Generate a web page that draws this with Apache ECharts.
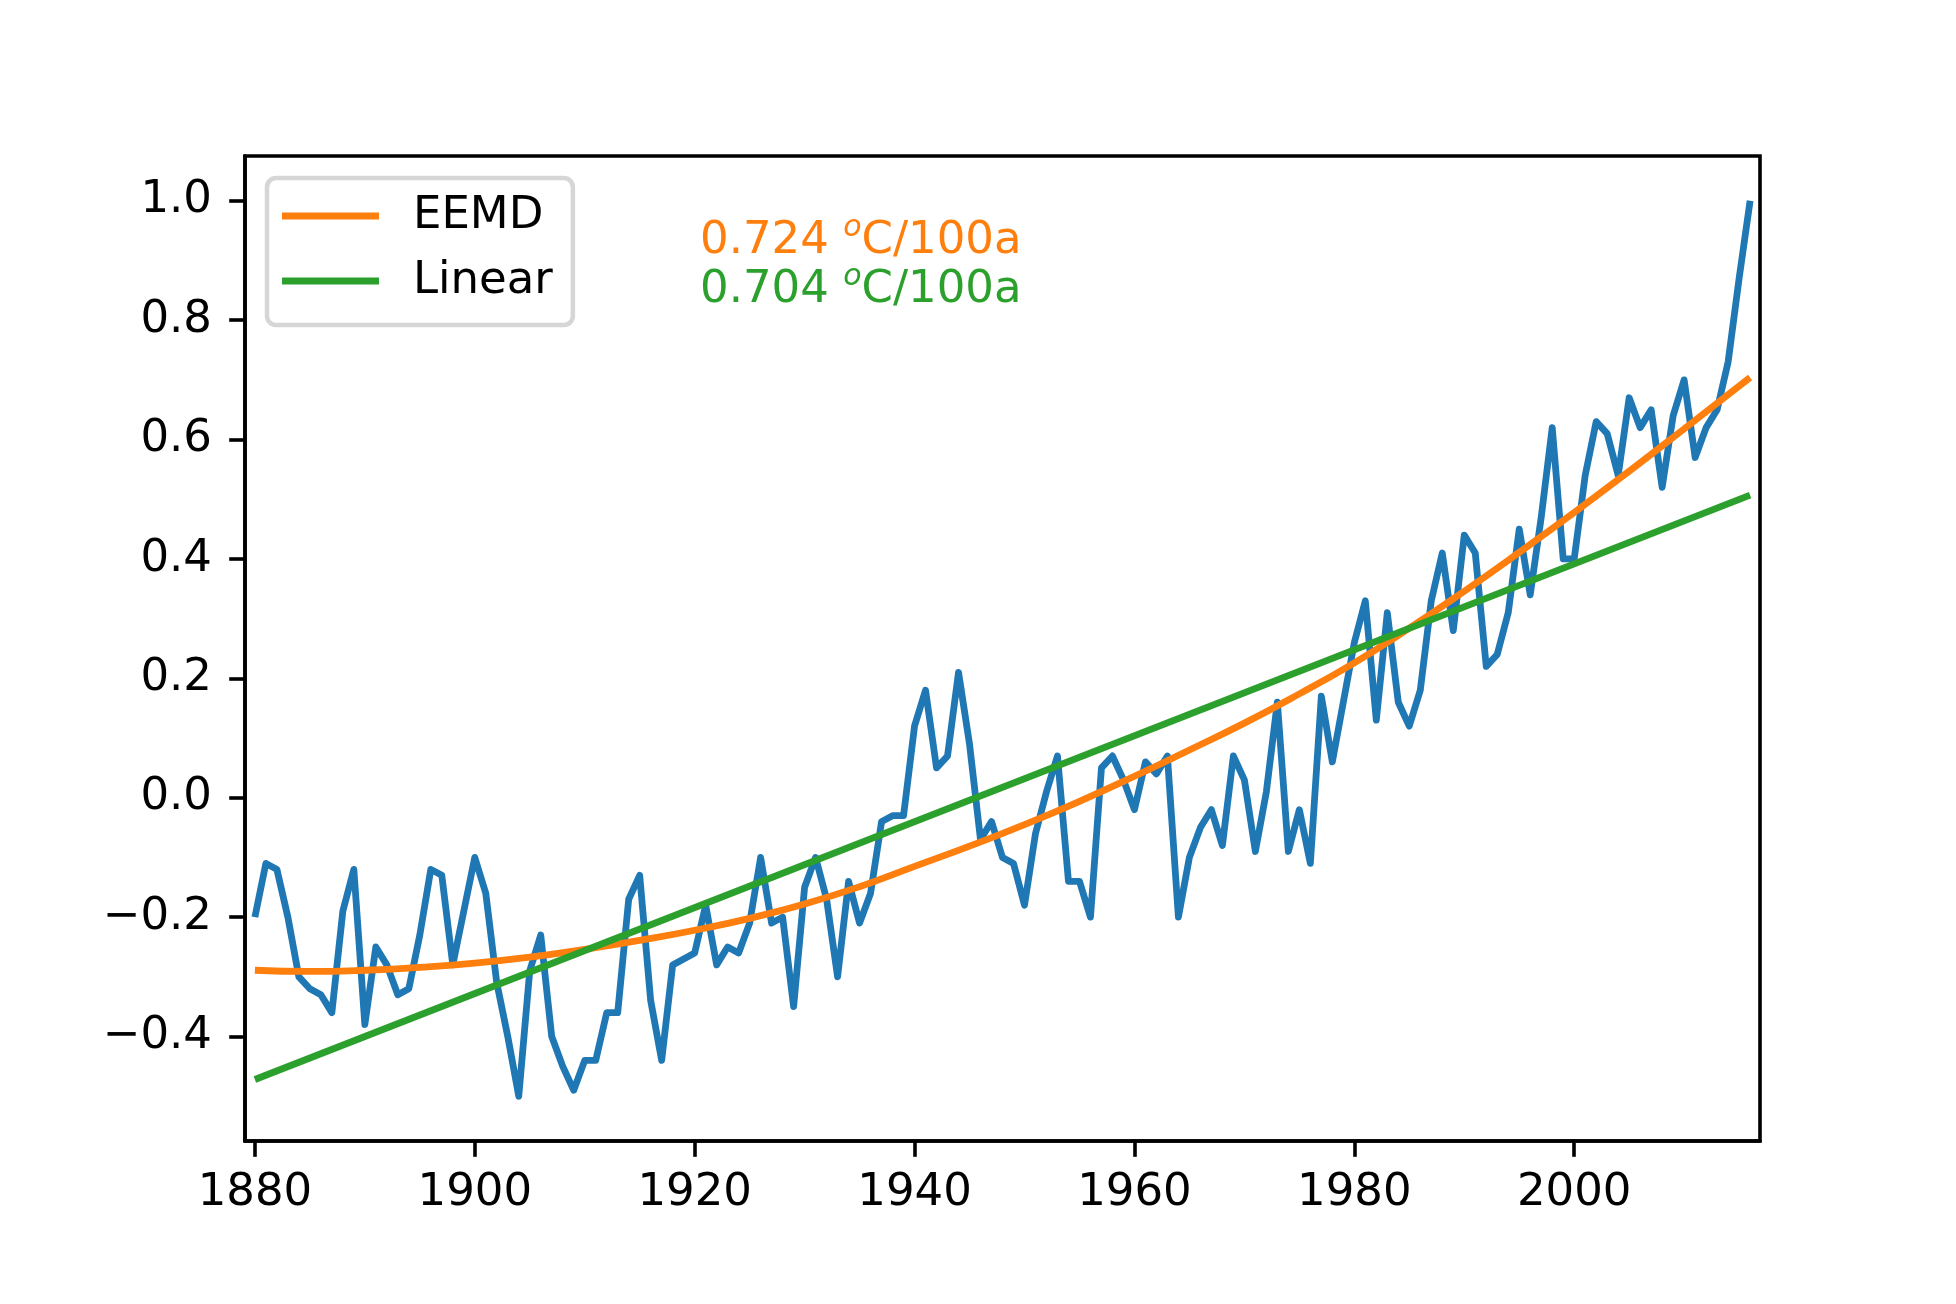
<!DOCTYPE html>
<html><head><meta charset="utf-8">
<script src="https://cdn.jsdelivr.net/npm/echarts@6/dist/echarts.min.js"></script>
<style>html,body{margin:0;padding:0;background:#fff}#chart{width:1956px;height:1304px}</style>
</head><body><div id="chart"></div>
<script>
// ---- data ----
const startYear = 1880;
const anomaly = [
  -0.20,-0.11,-0.12,-0.20,-0.30,-0.32,-0.33,-0.36,-0.19,-0.12,
  -0.38,-0.25,-0.28,-0.33,-0.32,-0.23,-0.12,-0.13,-0.28,-0.19,
  -0.10,-0.16,-0.31,-0.40,-0.50,-0.29,-0.23,-0.40,-0.45,-0.49,
  -0.44,-0.44,-0.36,-0.36,-0.17,-0.13,-0.34,-0.44,-0.28,-0.27,
  -0.26,-0.18,-0.28,-0.25,-0.26,-0.21,-0.10,-0.21,-0.20,-0.35,
  -0.15,-0.10,-0.17,-0.30,-0.14,-0.21,-0.16,-0.04,-0.03,-0.03,
   0.12, 0.18, 0.05, 0.07, 0.21, 0.09,-0.07,-0.04,-0.10,-0.11,
  -0.18,-0.06, 0.01, 0.07,-0.14,-0.14,-0.20, 0.05, 0.07, 0.03,
  -0.02, 0.06, 0.04, 0.07,-0.20,-0.10,-0.05,-0.02,-0.08, 0.07,
   0.03,-0.09, 0.01, 0.16,-0.09,-0.02,-0.11, 0.17, 0.06, 0.16,
   0.26, 0.33, 0.13, 0.31, 0.16, 0.12, 0.18, 0.33, 0.41, 0.28,
   0.44, 0.41, 0.22, 0.24, 0.31, 0.45, 0.34, 0.47, 0.62, 0.40,
   0.40, 0.54, 0.63, 0.61, 0.54, 0.67, 0.62, 0.65, 0.52, 0.64,
   0.70, 0.57, 0.62, 0.65, 0.73, 0.87, 1.00
];
const eemdYears  = [1880,1885,1890,1895,1900,1905,1910,1915,1920,1925,1930,1935,1940,1945,1950,1955,1960,1965,1970,1975,1980,1985,1990,1995,2000,2005,2010,2016];
const eemdValues = [-0.289,-0.291,-0.289,-0.284,-0.277,-0.267,-0.254,-0.239,-0.222,-0.202,-0.178,-0.149,-0.115,-0.081,-0.045,-0.006,0.036,0.080,0.125,0.174,0.226,0.284,0.346,0.411,0.478,0.547,0.618,0.704];
const linearYears  = [1880, 2016];
const linearValues = [-0.472, 0.507];
const xTicks = [1880, 1900, 1920, 1940, 1960, 1980, 2000];
const yTicks = [-0.4, -0.2, 0.0, 0.2, 0.4, 0.6, 0.8, 1.0];
const legendNames = ['EEMD', 'Linear'];
const rateValues = ['0.724', '0.704'];
const rateUnit = 'C/100a';

// ---- build ----
const FONT = 'DejaVu Sans';
const BLUE = '#1f77b4', ORANGE = '#ff7f0e', GREEN = '#2ca02c';
const pairs = (xs, ys) => ys.map((v, i) => [xs[i], v]);
const anomalyData = anomaly.map((v, i) => [startYear + i, v]);
const fmtY = v => (v < 0 ? '\u2212' : '') + Math.abs(v).toFixed(1);

const chart = echarts.init(document.getElementById('chart'), null, {renderer: 'canvas'});
const axisLineStyle = {color: '#000', width: 3.6};
const rateText = (val, color, y) => ({
  type: 'text', x: 700, y: y, z: 10,
  style: {
    text: '{n|' + val + ' }{s|o}{n|' + rateUnit + '}',
    align: 'left', verticalAlign: 'middle',
    rich: {
      n: {fontSize: 45, fontFamily: FONT, fill: color, lineHeight: 56},
      s: {fontSize: 30, fontFamily: FONT, fontStyle: 'italic', fill: color, verticalAlign: 'top', lineHeight: 36}
    }
  }
});

chart.setOption({
  animation: false,
  backgroundColor: '#fff',
  grid: {left: 245, right: 196, top: 156, bottom: 163, show: true, borderColor: '#000', borderWidth: 3.6, outerBoundsMode: 'none', containLabel: false},
  legend: {
    data: legendNames, orient: 'vertical', left: 267, top: 178,
    padding: [13, 20, 19, 15], itemGap: 15, itemWidth: 97, itemHeight: 7, icon: 'rect',
    backgroundColor: 'rgba(255,255,255,0.8)', borderColor: '#d6d6d6', borderWidth: 4.5, borderRadius: 9,
    textStyle: {fontSize: 45, fontFamily: FONT, color: '#000', lineHeight: 44, padding: [6, 0, 0, 29]}
  },
  xAxis: {
    type: 'value', min: 1879.1, max: 2016.9,
    axisLine: {show: true, onZero: false, lineStyle: axisLineStyle},
    axisTick: {show: true, customValues: xTicks, length: 15.8, lineStyle: axisLineStyle},
    axisLabel: {customValues: xTicks, fontSize: 45, fontFamily: FONT, color: '#000', margin: 30, formatter: v => String(v)},
    splitLine: {show: false}
  },
  yAxis: {
    type: 'value', min: -0.575, max: 1.075,
    axisLine: {show: true, onZero: false, lineStyle: axisLineStyle},
    axisTick: {show: true, customValues: yTicks, length: 15.8, lineStyle: axisLineStyle},
    axisLabel: {customValues: yTicks, fontSize: 45, fontFamily: FONT, color: '#000', margin: 33, formatter: fmtY},
    splitLine: {show: false}
  },
  series: [
    {name: 'Anomaly', type: 'line', data: anomalyData, symbol: 'none', showSymbol: false, z: 2,
     itemStyle: {color: BLUE}, lineStyle: {color: BLUE, width: 6.8, join: 'round'}},
    {name: 'EEMD', type: 'line', data: pairs(eemdYears, eemdValues), symbol: 'none', showSymbol: false, z: 3,
     smooth: 0.5,
     itemStyle: {color: ORANGE}, lineStyle: {color: ORANGE, width: 6.8}},
    {name: 'Linear', type: 'line', data: pairs(linearYears, linearValues), symbol: 'none', showSymbol: false, z: 4,
     itemStyle: {color: GREEN}, lineStyle: {color: GREEN, width: 6.8}}
  ],
  graphic: [
    rateText(rateValues[0], ORANGE, 241.5),
    rateText(rateValues[1], GREEN, 290.3)
  ]
});
</script></body></html>
